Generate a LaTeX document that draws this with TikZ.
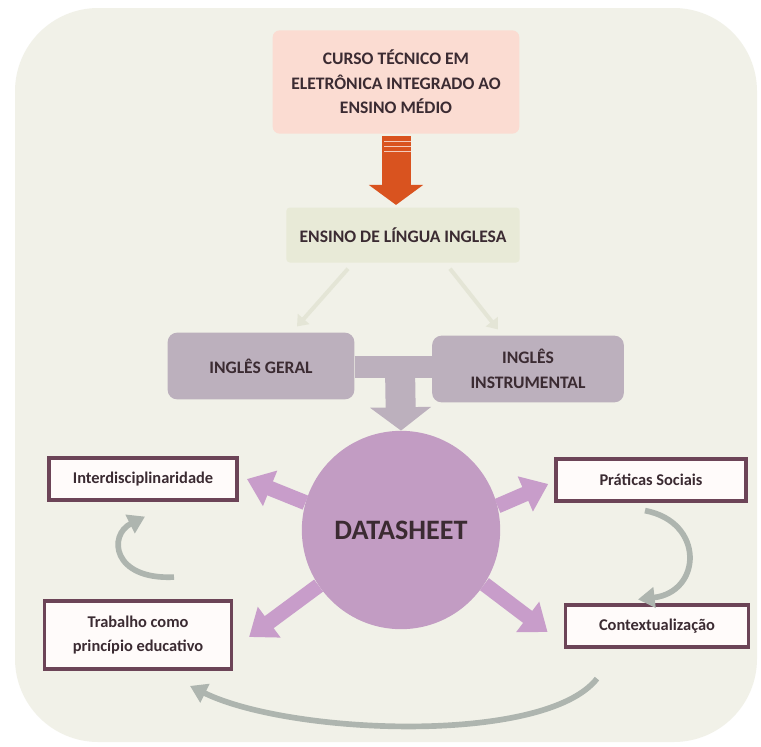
\documentclass[tikz,border=0pt]{standalone}
\usepackage{fontspec}
\setmainfont{Carlito}
\usepackage{tikz}
\usetikzlibrary{arrows.meta,positioning,calc}
\definecolor{bgcol}{HTML}{F1F1E8}
\definecolor{pinkcol}{HTML}{FBDCD2}
\definecolor{greencol}{HTML}{E8EAD7}
\definecolor{greycol}{HTML}{BCB0BD}
\definecolor{hubcol}{HTML}{C29CC3}
\definecolor{spokecol}{HTML}{C89DCA}
\definecolor{framecol}{HTML}{6C4457}
\definecolor{orangecol}{HTML}{D9531F}
\definecolor{swooshcol}{HTML}{AEB5AF}
\definecolor{faintcol}{HTML}{E4E5D6}
\definecolor{inkcol}{HTML}{3B2B32}
\tikzset{>=latex}
\tikzset{
  basebox/.style = {align=center, text=inkcol, font=\fontsize{15}{21}\selectfont\bfseries},
  pinkbox/.style = {basebox, fill=pinkcol, rounded corners=6pt, minimum width=7.4cm, minimum height=3.1cm},
  greenbox/.style = {basebox, fill=greencol, rounded corners=3pt, minimum width=7cm, minimum height=1.65cm},
  greybox/.style = {basebox, fill=greycol, rounded corners=8pt, minimum width=5.6cm, minimum height=2cm},
  framebox/.style = {basebox, font=\fontsize{14}{20}\selectfont\bfseries, draw=framecol, line width=3pt, fill=white!60!pinkcol!30, minimum height=1.25cm},
  hub/.style = {circle, fill=hubcol, minimum size=5.95cm, text=inkcol, font=\fontsize{24}{28}\selectfont\bfseries},
  spoke/.style = {spokecol, line width=0.45cm, -{Triangle[length=0.75cm,width=1.1cm]}},
  swoosh/.style = {swooshcol, line width=0.17cm, -{Triangle[length=0.5cm,width=0.6cm]}},
  faint/.style = {faintcol, line width=0.12cm, -{Triangle[length=0.3cm,width=0.45cm]}}
}

\begin{document}
\begin{tikzpicture}[x=0.03cm, y=-0.03cm]
  \useasboundingbox (0,0) rectangle (761,746);
  \fill [white] (0,0) rectangle (761,746);
  \fill [bgcol, rounded corners=2.5cm] (15,8) rectangle (757,742);

  % top of the chain
  \node [pinkbox] (curso) at (396,82) {CURSO TÉCNICO EM\\ELETRÔNICA INTEGRADO AO\\ENSINO MÉDIO};
  \node [greenbox] (lingua) at (403,235) {ENSINO DE LÍNGUA INGLESA};

  \draw [orangecol, line width=0.87cm, -{Triangle[length=0.6cm,width=1.6cm]}, shorten <=2pt, shorten >=2pt] (curso.south) -- (lingua.north -| curso.south);
  \foreach \y in {141,146,151}
    \draw [white!70!orangecol, line width=0.6pt] (384,\y) -- (411,\y);

  % the two kinds of English
  \node [greybox] (geral) at (261,366) {INGLÊS GERAL};
  \node [greybox, minimum width=5.75cm] (instr) at (528,369) {INGLÊS\\INSTRUMENTAL};

  \draw [faint] ($(lingua.south)+(-55,6)$) -- ($(geral.north)+(36,-6)$);
  \draw [faint] ($(lingua.south)+(47,6)$) -- ($(instr.north)+(-30,-6)$);

  \node [hub] (hub) at (401,530) {DATASHEET};

  \coordinate (join) at (400,367);
  \draw [greycol, line width=0.66cm] (geral.east |- join) -- (instr.west |- join);
  \draw [greycol, line width=0.9cm, -{Triangle[length=0.7cm,width=1.8cm]}] (join) -- (hub.north);

  % the four principles
  \node [framebox, minimum width=5.65cm] (inter) at (143,479) {Interdisciplinaridade};
  \node [framebox, minimum width=5.7cm] (prat) at (651,480) {Práticas Sociais};
  \node [framebox, minimum width=5.6cm, minimum height=2.05cm] (trab) at (138,635) {Trabalho como\\princípio educativo};
  \node [framebox, minimum width=5.5cm] (contx) at (657,626) {Contextualização};

  \draw [spoke] (hub.164) -- ($(inter.east)+(8,0)$);
  \draw [spoke] (hub.14) -- ($(prat.west)+(-6,4)$);
  \draw [spoke] (hub.214) -- ($(trab.east)+(16,2)$);
  \draw [spoke] (hub.327) -- ($(contx.west)+(-16,6)$);

  % cycle between the principles
  \draw [swoosh] ($(trab.north)+(36,-22)$) .. controls (112,580) and (108,535) .. ($(inter.south)+(2,15)$);
  \draw [swoosh] ($(prat.south)+(-6,8)$) .. controls (705,522) and (702,592) .. ($(contx.north)+(-19,-4)$);
  \draw [swoosh] ($(contx.south)+(-60,30)$) .. controls (545,745) and (290,735) .. ($(trab.south)+(52,15)$);
\end{tikzpicture}
\end{document}
